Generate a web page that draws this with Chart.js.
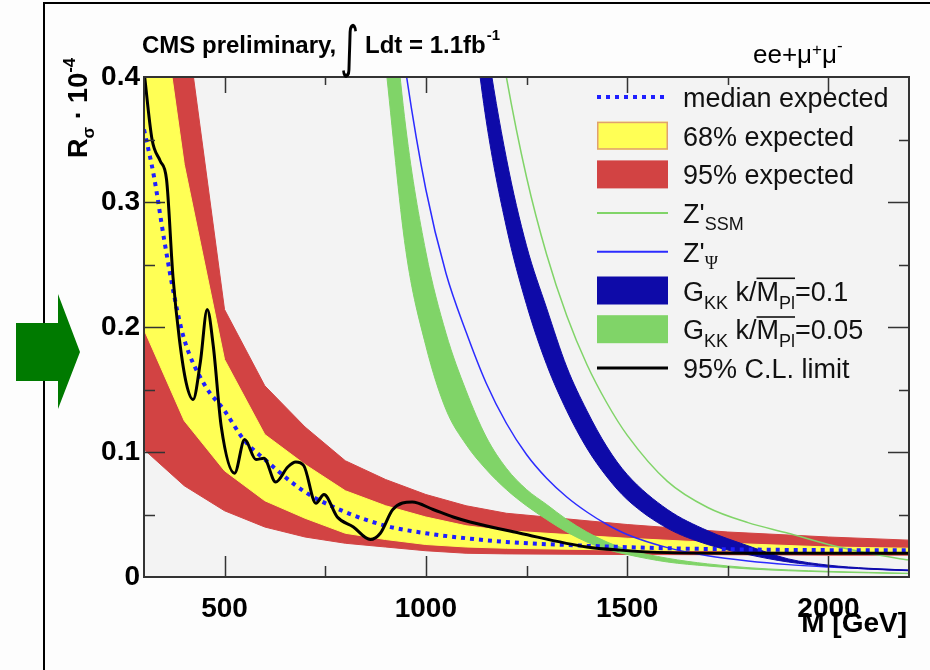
<!DOCTYPE html>
<html>
<head>
<meta charset="utf-8">
<title>CMS dilepton limit</title>
<script src="https://cdn.jsdelivr.net/npm/chart.js@4.4.1/dist/chart.umd.min.js"></script>
<style>
  html, body { margin: 0; padding: 0; background: #fdfdfd; }
  #box { position: relative; width: 930px; height: 670px; }
</style>
</head>
<body>
<div id="box"><canvas id="limitChart" width="930" height="670"></canvas></div>
<script>
// expected limit bands (mass in GeV, R_sigma in 1e-4)
const massExp = [300, 400, 500, 600, 700, 800, 900, 1000, 1100, 1200, 1500, 1750, 2000, 2200];
const exp95Hi = [0.70, 0.455, 0.214, 0.153, 0.120, 0.093, 0.078, 0.066, 0.057, 0.051, 0.042, 0.036, 0.032, 0.0295];
const exp68Hi = [0.56, 0.33, 0.174, 0.114, 0.090, 0.069, 0.057, 0.048, 0.041, 0.037, 0.031, 0.027, 0.024, 0.023];
const exp68Lo = [0.198, 0.125, 0.085, 0.061, 0.047, 0.035, 0.030, 0.026, 0.024, 0.023, 0.0215, 0.021, 0.020, 0.020];
const exp95Lo = [0.102, 0.073, 0.053, 0.040, 0.032, 0.027, 0.024, 0.021, 0.019, 0.0185, 0.018, 0.0178, 0.0175, 0.0175];

// median expected
const massMed = [300, 325, 350, 375, 400, 450, 500, 550, 600, 700, 800, 900, 1000, 1100, 1200, 1400, 1600, 1800, 2000, 2200];
const medianExp = [0.358, 0.32, 0.27, 0.225, 0.19, 0.154, 0.133, 0.109, 0.094, 0.068, 0.052, 0.041, 0.035, 0.031, 0.028, 0.025, 0.023, 0.022, 0.0215, 0.0215];

// observed 95% C.L. limit
const massObs = [300, 320, 340, 356, 372, 388, 405, 422, 440, 457, 472, 492, 525, 550, 578, 598, 627, 657, 677, 697, 727, 747, 780, 820, 862, 887, 918, 966, 1018, 1068, 1110, 1234, 1400, 1482, 1600, 1800, 2000, 2200];
const obsLimit = [0.405, 0.35, 0.333, 0.318, 0.24, 0.19, 0.155, 0.142, 0.172, 0.214, 0.185, 0.12, 0.083, 0.11, 0.094, 0.095, 0.076, 0.088, 0.092, 0.089, 0.059, 0.066, 0.048, 0.04, 0.03, 0.035, 0.054, 0.06, 0.054, 0.048, 0.044, 0.035, 0.024, 0.0215, 0.0195, 0.019, 0.019, 0.019];

// signal predictions
const massSig = [900, 950, 1000, 1050, 1100, 1150, 1200, 1250, 1300, 1350, 1400, 1450, 1500, 1600, 1700, 1800, 1900, 2000, 2100, 2200];
const zPsi = [0.53, 0.405, 0.31, 0.243, 0.196, 0.155, 0.123, 0.098, 0.079, 0.064, 0.052, 0.042, 0.034, 0.0235, 0.017, 0.0128, 0.0099, 0.008, 0.0065, 0.0054];
const kk005Hi = [0.52, 0.36, 0.26, 0.195, 0.149, 0.112, 0.087, 0.07, 0.058, 0.046, 0.036, 0.028, 0.022, 0.015, 0.0105, 0.0075, 0.0057, 0.0045, 0.0037, 0.003];
const kk005Lo = [0.41, 0.262, 0.185, 0.134, 0.106, 0.086, 0.07, 0.057, 0.046, 0.036, 0.028, 0.022, 0.018, 0.012, 0.0088, 0.0065, 0.005, 0.004, 0.0033, 0.0027];

const massSig2 = [1100, 1150, 1200, 1250, 1300, 1350, 1400, 1450, 1500, 1600, 1700, 1800, 1900, 2000, 2100, 2200];
const kk01Hi = [0.56, 0.43, 0.335, 0.265, 0.215, 0.168, 0.133, 0.104, 0.082, 0.054, 0.037, 0.025, 0.0145, 0.0095, 0.007, 0.0055];
const kk01Lo = [0.49, 0.365, 0.28, 0.218, 0.17, 0.133, 0.103, 0.08, 0.062, 0.039, 0.026, 0.018, 0.012, 0.0085, 0.0063, 0.005];
const zSSM = [0.62, 0.50, 0.40, 0.32, 0.258, 0.209, 0.17, 0.139, 0.1135, 0.0765, 0.0556, 0.0435, 0.035, 0.026, 0.019, 0.0135];

// axis ranges
const massMin = 300, massMax = 2200;
const rMin = 0, rMax = 0.4;

// colours
const RED = '#d24343';
const YEL = '#ffff55';
const KK1 = '#0e0aa8';
const GRN = '#80d468';
const PSI = '#2b2bff';
const MED = '#1f1fff';

const FONT = "'Liberation Sans', Arial, sans-serif";

function pts(xs, ys) {
    return xs.map((x, i) => ({ x: x, y: ys[i] }));
}

// draws text pieces one after another: [text, font, dy, overline]
function drawParts(ctx, x, y, parts) {
    let barA = null, barB = null, barY = 0;
    parts.forEach(p => {
        ctx.font = p[1];
        const w = ctx.measureText(p[0]).width;
        ctx.fillText(p[0], x, y + (p[2] || 0));
        if (p[3]) {
            if (barA === null) barA = x;
            barB = x + w;
            barY = y - 23;
        }
        x += w;
    });
    if (barA !== null) ctx.fillRect(barA, barY, barB - barA, 1.6);
    return x;
}

const BIG = '27px ' + FONT;
const SMALL = '18px ' + FONT;

const legendRows = [
    { kind: 'dots', color: MED, parts: [['median expected', BIG]] },
    { kind: 'box', color: YEL, edge: '#e0a070', parts: [['68% expected', BIG]] },
    { kind: 'box', color: RED, parts: [['95% expected', BIG]] },
    { kind: 'line', color: GRN, width: 2, parts: [["Z'", BIG], ['SSM', SMALL, 7]] },
    { kind: 'line', color: PSI, width: 2, parts: [["Z'", BIG], ['\u03A8', "18px 'Liberation Serif', serif", 7]] },
    { kind: 'box', color: KK1, parts: [['G', BIG], ['KK', SMALL, 8], [' k/', BIG], ['M', BIG, 0, true], ['Pl', SMALL, 8, true], ['=0.1', BIG]] },
    { kind: 'box', color: GRN, parts: [['G', BIG], ['KK', SMALL, 8], [' k/', BIG], ['M', BIG, 0, true], ['Pl', SMALL, 8, true], ['=0.05', BIG]] },
    { kind: 'line', color: '#000', width: 3, parts: [['95% C.L. limit', BIG]] }
];

// background of page and plot area
const plotBg = {
    id: 'plotBg',
    beforeDraw(chart) {
        const { ctx, chartArea: a } = chart;
        ctx.save();
        ctx.fillStyle = '#fdfdfd';
        ctx.fillRect(0, 0, chart.width, chart.height);
        ctx.fillStyle = '#f3f3f3';
        ctx.fillRect(a.left, a.top, a.right - a.left, a.bottom - a.top);
        ctx.restore();
    }
};

// frame and inward ticks like ROOT
const frameTicks = {
    id: 'frameTicks',
    afterDatasetsDraw(chart) {
        const { ctx, chartArea: a, scales } = chart;
        const xs = scales.x, ys = scales.y;
        ctx.save();
        ctx.strokeStyle = '#333';
        ctx.lineWidth = 1.5;
        ctx.beginPath();
        xs.ticks.forEach(t => {
            const px = Math.round(xs.getPixelForValue(t.value)) + 0.5;
            const major = t.value % 500 === 0;
            ctx.moveTo(px, a.bottom);
            ctx.lineTo(px, a.bottom - (major ? 21 : 11));
            ctx.moveTo(px, a.top);
            ctx.lineTo(px, a.top + (major ? 16 : 8));
        });
        ys.ticks.forEach(t => {
            if (t.value <= rMin || t.value >= rMax) return;
            const py = Math.round(ys.getPixelForValue(t.value)) + 0.5;
            const major = Math.round(t.value * 100) % 10 === 0;
            ctx.moveTo(a.left, py);
            ctx.lineTo(a.left + (major ? 21 : 11), py);
            ctx.moveTo(a.right, py);
            ctx.lineTo(a.right - (major ? 21 : 10), py);
        });
        ctx.stroke();
        ctx.lineWidth = 2;
        ctx.strokeRect(a.left, a.top, a.right - a.left, a.bottom - a.top);
        ctx.restore();
    }
};

// legend, titles, page frame and arrow
const annotations = {
    id: 'annotations',
    afterDraw(chart) {
        const ctx = chart.ctx;
        ctx.save();
        ctx.fillStyle = '#111';
        ctx.textBaseline = 'alphabetic';
        ctx.textAlign = 'left';

        // legend
        const lx = 597, lw = 71;
        legendRows.forEach((row, i) => {
            const cy = 97 + i * 38.7;
            if (row.kind === 'box') {
                ctx.fillStyle = row.color;
                ctx.fillRect(lx, cy - 14, lw, 28);
                if (row.edge) {
                    ctx.strokeStyle = row.edge;
                    ctx.lineWidth = 1.5;
                    ctx.strokeRect(lx + 0.75, cy - 13.25, lw - 1.5, 26.5);
                }
            } else {
                ctx.beginPath();
                ctx.strokeStyle = row.color;
                ctx.lineWidth = row.kind === 'dots' ? 4 : row.width;
                ctx.setLineDash(row.kind === 'dots' ? [4, 5] : []);
                ctx.moveTo(lx, cy);
                ctx.lineTo(lx + lw, cy);
                ctx.stroke();
                ctx.setLineDash([]);
            }
            ctx.fillStyle = '#111';
            drawParts(ctx, 683, cy + 10, row.parts);
        });

        // header
        ctx.fillStyle = '#000';
        drawParts(ctx, 142, 53, [['CMS preliminary,', 'bold 24px ' + FONT]]);
        ctx.save();
        ctx.translate(340, 66);
        ctx.scale(0.65, 1);
        ctx.font = "56px 'DejaVu Sans', sans-serif";
        ctx.fillText('\u222B', 0, 0);
        ctx.restore();
        const endL = drawParts(ctx, 365, 53, [['Ldt = 1.1fb', 'bold 24px ' + FONT]]);
        drawParts(ctx, endL + 1, 40, [['-1', 'bold 15px ' + FONT]]);
        drawParts(ctx, 753, 63, [['ee+\u03BC', '26px ' + FONT], ['+', '17px ' + FONT, -8], ['\u03BC', '26px ' + FONT], ['-', '17px ' + FONT, -12]]);

        // axis titles
        ctx.save();
        ctx.translate(87, 158);
        ctx.rotate(-Math.PI / 2);
        drawParts(ctx, 0, 0, [['R', 'bold 27px ' + FONT], ['\u03C3', 'bold 17px ' + FONT, 7], [' \u00B7 10', 'bold 27px ' + FONT], ['-4', 'bold 17px ' + FONT, -12]]);
        ctx.restore();
        ctx.font = 'bold 28px ' + FONT;
        ctx.textAlign = 'right';
        ctx.fillText('M [GeV]', 907, 632);

        // page frame
        ctx.fillStyle = '#000';
        ctx.fillRect(43, 2, 2, 668);
        ctx.fillRect(43, 2, 887, 2);

        // green arrow
        ctx.fillStyle = '#007a00';
        ctx.beginPath();
        ctx.moveTo(16, 323);
        ctx.lineTo(58, 323);
        ctx.lineTo(58, 294);
        ctx.lineTo(80, 352);
        ctx.lineTo(58, 409);
        ctx.lineTo(58, 381);
        ctx.lineTo(16, 381);
        ctx.closePath();
        ctx.fill();
        ctx.restore();
    }
};

const smooth = { tension: 0.4, cubicInterpolationMode: 'monotone' };

const datasets = [
    // 0-1: 95% band
    { label: '95% expected', data: pts(massExp, exp95Hi), fill: 1, backgroundColor: RED, borderColor: RED, borderWidth: 1, order: 20 },
    { label: '95% low', data: pts(massExp, exp95Lo), fill: false, borderColor: RED, borderWidth: 1, order: 19 },
    // 2-3: 68% band
    { label: '68% expected', data: pts(massExp, exp68Hi), fill: 3, backgroundColor: YEL, borderColor: YEL, borderWidth: 1, order: 18 },
    { label: '68% low', data: pts(massExp, exp68Lo), fill: false, borderColor: YEL, borderWidth: 1, order: 17 },
    // 4-5: G_KK 0.05
    Object.assign({ label: 'GKK 0.05', data: pts(massSig, kk005Hi), fill: 5, backgroundColor: GRN, borderColor: GRN, borderWidth: 1, order: 12 }, smooth),
    Object.assign({ label: 'GKK 0.05 low', data: pts(massSig, kk005Lo), fill: false, borderColor: GRN, borderWidth: 1, order: 11 }, smooth),
    // 6: Z' psi
    Object.assign({ label: "Z'psi", data: pts(massSig, zPsi), fill: false, borderColor: PSI, borderWidth: 1.5, order: 10 }, smooth),
    // 7-8: G_KK 0.1
    Object.assign({ label: 'GKK 0.1', data: pts(massSig2, kk01Hi), fill: 8, backgroundColor: KK1, borderColor: KK1, borderWidth: 1, order: 9 }, smooth),
    Object.assign({ label: 'GKK 0.1 low', data: pts(massSig2, kk01Lo), fill: false, borderColor: KK1, borderWidth: 1, order: 8 }, smooth),
    // 9: Z' SSM
    Object.assign({ label: "Z'SSM", data: pts(massSig2, zSSM), fill: false, borderColor: GRN, borderWidth: 1.5, order: 7 }, smooth),
    // 10: median expected
    Object.assign({ label: 'median expected', data: pts(massMed, medianExp), fill: false, borderColor: MED, borderWidth: 4, borderDash: [4, 5], order: 3 }, smooth),
    // 11: observed
    Object.assign({ label: '95% C.L. limit', data: pts(massObs, obsLimit), fill: false, borderColor: '#000', borderWidth: 3, order: 1 }, smooth)
];
datasets.forEach(d => { d.clip = 0; });

new Chart(document.getElementById('limitChart'), {
    type: 'line',
    data: { datasets: datasets },
    options: {
        responsive: false,
        animation: false,
        events: [],
        layout: { padding: { left: 44, top: 77, right: 21, bottom: 43 } },
        elements: { point: { radius: 0 }, line: { tension: 0 } },
        plugins: {
            legend: { display: false },
            tooltip: { enabled: false },
            filler: { propagate: false }
        },
        scales: {
            x: {
                type: 'linear',
                min: massMin,
                max: massMax,
                grid: { display: false, drawTicks: false },
                border: { display: false },
                ticks: {
                    stepSize: 250,
                    includeBounds: false,
                    autoSkip: false,
                    maxRotation: 0,
                    padding: 15,
                    color: '#000',
                    font: { family: FONT, size: 28, weight: 'bold' },
                    callback: v => (v % 500 === 0 ? String(v) : '')
                },
                afterFit: s => { s.height = 50; }
            },
            y: {
                type: 'linear',
                min: rMin,
                max: rMax,
                grid: { display: false, drawTicks: false },
                border: { display: false },
                ticks: {
                    stepSize: 0.05,
                    autoSkip: false,
                    padding: 4,
                    color: '#000',
                    font: { family: FONT, size: 28, weight: 'bold' },
                    callback: v => {
                        const r = Math.round(v * 100);
                        if (r % 10 !== 0) return '';
                        return r === 0 ? '0' : (r / 100).toFixed(1);
                    }
                },
                afterFit: s => { s.width = 100; }
            }
        }
    },
    plugins: [plotBg, frameTicks, annotations]
});
</script>
</body>
</html>
